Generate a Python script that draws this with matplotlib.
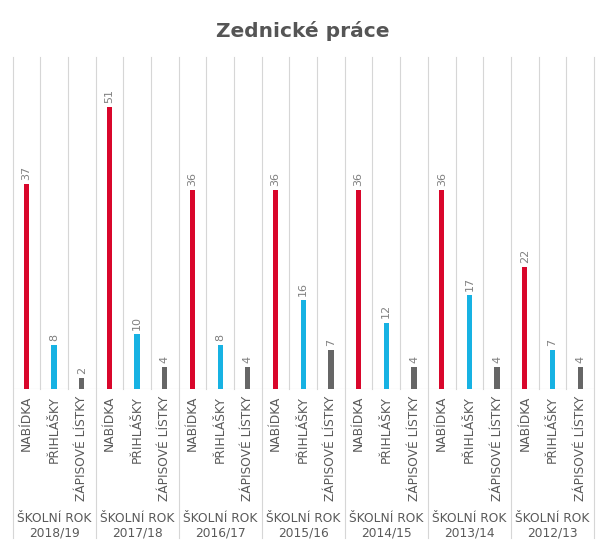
import matplotlib
matplotlib.use("Agg")
import matplotlib.pyplot as plt
from matplotlib.transforms import blended_transform_factory

years = ["2018/19", "2017/18", "2016/17", "2015/16", "2014/15", "2013/14", "2012/13"]
categories = ["NABÍDKA", "PŘIHLÁŠKY", "ZÁPISOVÉ LÍSTKY"]
nabidka = [37, 51, 36, 36, 36, 36, 22]
prihlasky = [8, 10, 8, 16, 12, 17, 7]
zapisove = [2, 4, 4, 7, 4, 4, 4]

RED, BLUE, GREY = "#d9062b", "#17b2e3", "#666666"
LINE, TXT = "#d6d6d6", "#5a5a5a"

W, H = 605, 553
fig = plt.figure(figsize=(W / 100, H / 100), dpi=100)
left, right, top, bottom = 12.5, 594, 57, 389
ax = fig.add_axes([left / W, 1 - bottom / H, (right - left) / W, (bottom - top) / H])
ax.set_xlim(0, 3 * len(years))
ax.set_ylim(0, 60)
ax.axis("off")

series = [(nabidka, RED), (prihlasky, BLUE), (zapisove, GREY)]
for j, (vals, color) in enumerate(series):
    xs = [3 * i + j + 0.5 for i in range(len(years))]
    ax.bar(xs, vals, width=0.19, color=color, zorder=3)
    for x, v in zip(xs, vals):
        ax.annotate(str(v), (x, v), xytext=(0, 3), textcoords="offset points",
                    rotation=90, ha="center", va="bottom", fontsize=8, color="#808080")
    for x in xs:
        ax.annotate(categories[j], (x, 0), xytext=(0, -5), textcoords="offset points",
                    rotation=90, ha="center", va="top", fontsize=8.8, color=TXT,
                    annotation_clip=False)

# vertical separators: inner ones stop at the baseline, group ones run under the year labels
tr = blended_transform_factory(ax.transData, ax.transAxes)
lo_group = -(538 - bottom) / (bottom - top)
for k in range(3 * len(years) + 1):
    lo = lo_group if k % 3 == 0 else 0
    ax.plot([k, k], [lo, 1], color=LINE, lw=0.8, transform=tr, clip_on=False, zorder=1)
ax.axhline(0, color=LINE, lw=0.8, zorder=2)

for i, yr in enumerate(years):
    ax.text(3 * i + 1.5, -(519 - bottom) / (bottom - top), "ŠKOLNÍ ROK", transform=tr,
            ha="center", va="center", fontsize=8.8, color=TXT)
    ax.text(3 * i + 1.5, -(533 - bottom) / (bottom - top), yr, transform=tr,
            ha="center", va="center", fontsize=8.8, color=TXT)

fig.text(0.5, 1 - 31 / H, "Zednické práce", ha="center", va="center",
         fontsize=14.5, fontweight="bold", color="#555555")

fig.savefig("out.png", dpi=100)
